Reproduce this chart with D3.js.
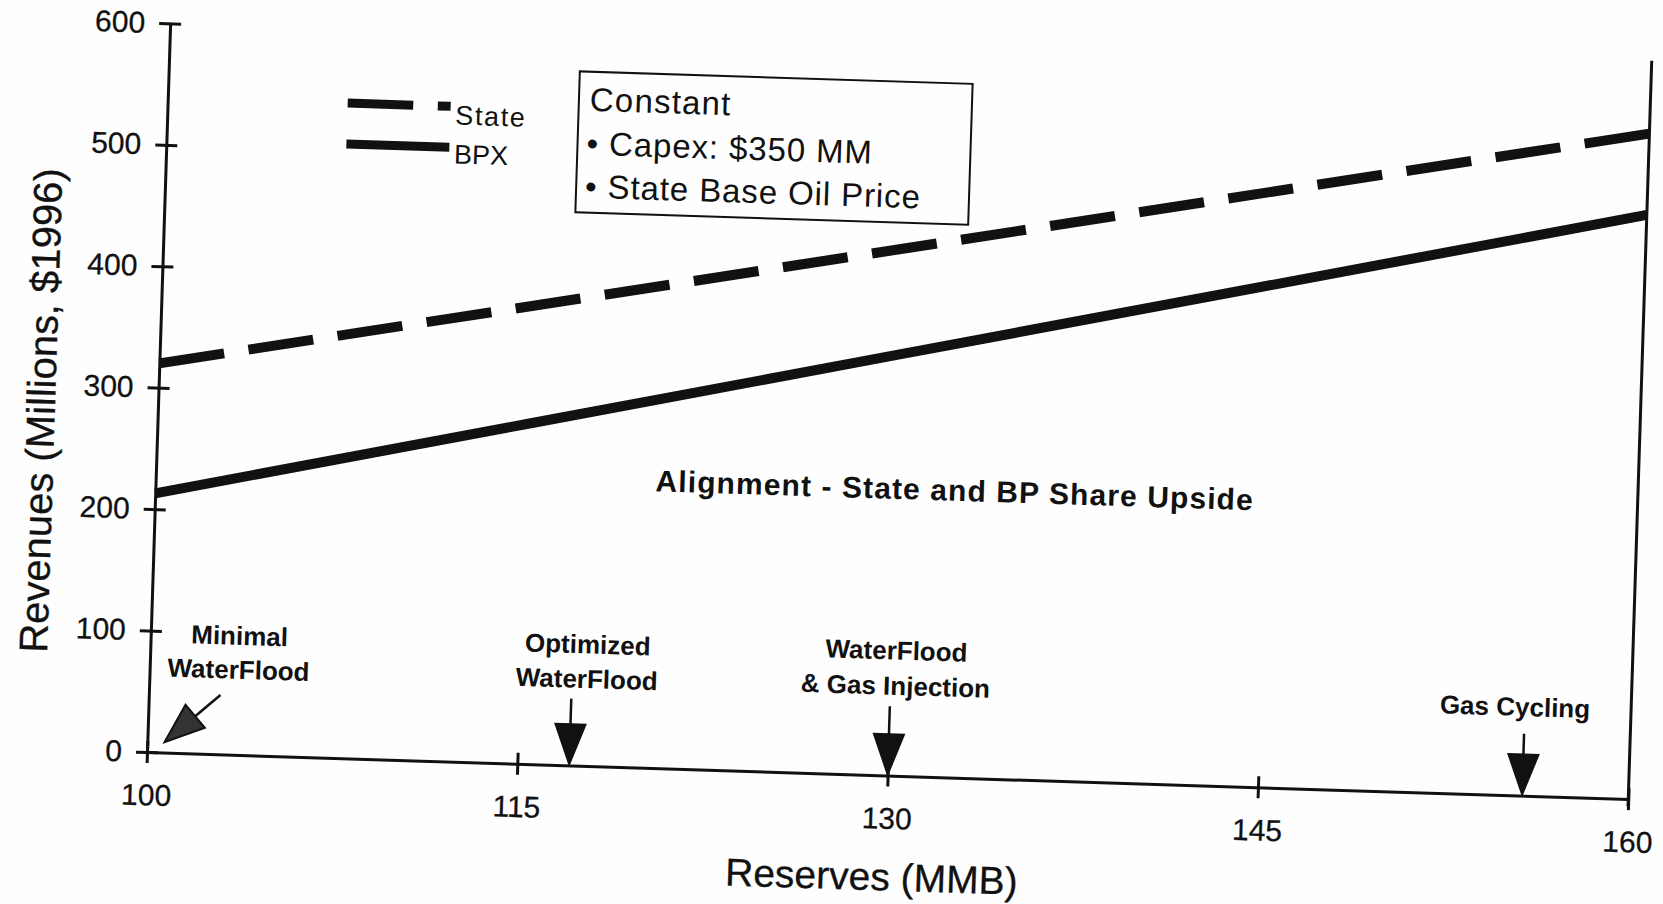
<!DOCTYPE html>
<html>
<head>
<meta charset="utf-8">
<script src="https://cdn.jsdelivr.net/npm/d3@7/dist/d3.min.js"></script>
<style>
  html, body { margin: 0; padding: 0; background: #ffffff; }
  svg { display: block; }
  text { font-family: "Liberation Sans", Arial, Helvetica, sans-serif; fill: #111; }
</style>
</head>
<body>
<svg id="chart" width="1663" height="904"></svg>
<script>
// Reserves scenarios and revenue to each party
const reserves      = [100, 115, 130, 145, 160];
const stateRevenue  = [320, 377, 434, 491, 548];
const bpxRevenue    = [213, 280, 347, 414, 481];

const xTickValues = [100, 115, 130, 145, 160];
const yTickValues = [0, 100, 200, 300, 400, 500, 600];

const seriesNames = ["State", "BPX"];

const constantsTitle = "Constant";
const constantsItems = ["Capex: $350 MM", "State Base Oil Price"];

const alignmentNote = "Alignment - State and BP Share Upside";

// development options marked along the reserves axis
const scenarioNames  = [["Minimal", "WaterFlood"], ["Optimized", "WaterFlood"], ["WaterFlood", "& Gas Injection"], ["Gas Cycling"]];
const scenarioLabelX = [103.6, 117.7, 130.2, 155.3];
const scenarioLabelY = [[98, 70], [100, 71.5], [103, 74], [73]];
const arrowFrom      = [[102.9, 48.8], [117.1, 55], [130, 57], [155.7, 51]];
const arrowTo        = [[100.7, 8.6], [117.1, 1], [130, 1], [155.7, 1]];

const W = 1482, H = 729;
const tilt = 1.82;

const svg = d3.select("#chart");
svg.append("rect").attr("width", 1663).attr("height", 904).attr("fill", "#fefefe");

const g = svg.append("g")
  .attr("transform", `translate(147,752) rotate(${tilt}) translate(0,${-H})`);

const x = d3.scaleLinear().domain([100, 160]).range([0, W]);
const y = d3.scaleLinear().domain([0, 600]).range([H, 0]);

// axes
const yAxis = d3.axisLeft(y).tickValues(yTickValues).tickSize(11).tickSizeOuter(0).tickPadding(14);
const yg = g.append("g").call(yAxis);
yg.select(".domain").attr("stroke", "#111").attr("stroke-width", 3);
yg.selectAll(".tick line").attr("x1", 11).attr("stroke", "#111").attr("stroke-width", 3);
yg.selectAll(".tick text").attr("font-size", 30).attr("font-family", "Liberation Sans, Arial, sans-serif")
  .attr("fill", "#111").attr("stroke", "#111").attr("stroke-width", 0.3);

const xAxis = d3.axisBottom(x).tickValues(xTickValues).tickFormat(d3.format("d")).tickSize(11).tickSizeOuter(0).tickPadding(21);
const xg = g.append("g").attr("transform", `translate(0,${H})`).call(xAxis);
xg.select(".domain").attr("stroke", "#111").attr("stroke-width", 3);
xg.selectAll(".tick line").attr("y1", -11).attr("stroke", "#111").attr("stroke-width", 3);
xg.selectAll(".tick text").attr("font-size", 30).attr("font-family", "Liberation Sans, Arial, sans-serif")
  .attr("fill", "#111").attr("stroke", "#111").attr("stroke-width", 0.3);

// right-hand frame line at the end of the reserves range
g.append("line")
  .attr("x1", x(160)).attr("x2", x(160))
  .attr("y1", y(-6)).attr("y2", y(608))
  .attr("stroke", "#111").attr("stroke-width", 3);

// axis titles
g.append("text")
  .attr("x", 728).attr("y", H + 115)
  .attr("text-anchor", "middle").attr("font-size", 39)
  .attr("stroke", "#111").attr("stroke-width", 0.3)
  .text("Reserves (MMB)");

g.append("text")
  .attr("transform", `translate(-103,391) rotate(-90)`)
  .attr("text-anchor", "middle").attr("font-size", 40)
  .attr("stroke", "#111").attr("stroke-width", 0.3)
  .text("Revenues (Millions, $1996)");

// revenue lines
const line = d3.line().x(d => x(d[0])).y(d => y(d[1]));
const statePts = reserves.map((r, i) => [r, stateRevenue[i]]);
const bpxPts   = reserves.map((r, i) => [r, bpxRevenue[i]]);

const statePath = g.append("path")
  .datum(statePts)
  .attr("d", line)
  .attr("fill", "none").attr("stroke", "#111").attr("stroke-width", 10);
// fit 17 dashes so the pattern starts and ends on a dash
const L = statePath.node().getTotalLength();
const k = L / (17 * 64 + 16 * 24);
const dashArr = `${64 * k},${24 * k}`;
statePath.attr("stroke-dasharray", dashArr);

g.append("path")
  .datum(bpxPts)
  .attr("d", line)
  .attr("fill", "none").attr("stroke", "#111").attr("stroke-width", 10);

// legend
const legend = g.append("g").attr("transform", "translate(180,74)");
legend.append("line").attr("x1", 0).attr("x2", 103).attr("y1", 0).attr("y2", 0)
  .attr("stroke", "#111").attr("stroke-width", 9).attr("stroke-dasharray", dashArr);
legend.append("line").attr("x1", 0).attr("x2", 103).attr("y1", 41).attr("y2", 41)
  .attr("stroke", "#111").attr("stroke-width", 9);
legend.selectAll("text.lg").data(seriesNames).join("text")
  .attr("class", "lg")
  .attr("x", 108).attr("y", (d, i) => 18 + i * 39)
  .attr("font-size", 27).attr("letter-spacing", (d, i) => i === 0 ? 1.6 : 0)
  .text(d => d);

// constants box
const box = g.append("g").attr("transform", "translate(411,35)");
box.append("rect").attr("width", 393).attr("height", 141)
  .attr("fill", "none").attr("stroke", "#111").attr("stroke-width", 2);
box.append("text").attr("x", 11).attr("y", 39).attr("font-size", 33).attr("letter-spacing", 1.2).text(constantsTitle);
box.selectAll("text.item").data(constantsItems).join("text")
  .attr("class", "item")
  .attr("x", 9).attr("y", (d, i) => 83 + i * 43)
  .attr("font-size", 33).attr("letter-spacing", 0.9)
  .text(d => "\u2022 " + d);

// alignment note
g.append("text")
  .attr("x", x(132.35)).attr("y", y(236) + 10)
  .attr("text-anchor", "middle").attr("font-size", 30).attr("font-weight", "bold").attr("letter-spacing", 1.1)
  .text(alignmentNote);

// scenario labels
scenarioNames.forEach((lines, i) => {
  lines.forEach((t, j) => {
    g.append("text")
      .attr("x", x(scenarioLabelX[i])).attr("y", y(scenarioLabelY[i][j]) + 9)
      .attr("text-anchor", "middle").attr("font-size", 26).attr("font-weight", "bold")
      .text(t);
  });
});

// arrows
const headLen = 40, headW = 30;
arrowFrom.forEach((f, i) => {
  const x0 = x(f[0]), y0 = y(f[1]);
  const x1 = x(arrowTo[i][0]), y1 = y(arrowTo[i][1]);
  const dx = x1 - x0, dy = y1 - y0, len = Math.hypot(dx, dy);
  const ux = dx / len, uy = dy / len;
  const bx = x1 - ux * headLen, by = y1 - uy * headLen;
  g.append("line").attr("x1", x0).attr("y1", y0).attr("x2", bx).attr("y2", by)
    .attr("stroke", "#111").attr("stroke-width", 2.5);
  g.append("path")
    .attr("d", `M${x1},${y1}L${bx - uy * headW / 2},${by + ux * headW / 2}L${bx + uy * headW / 2},${by - ux * headW / 2}Z`)
    .attr("fill", i === 0 ? "#333" : "#111").attr("stroke", "#111").attr("stroke-width", 2);
});
</script>
</body>
</html>
